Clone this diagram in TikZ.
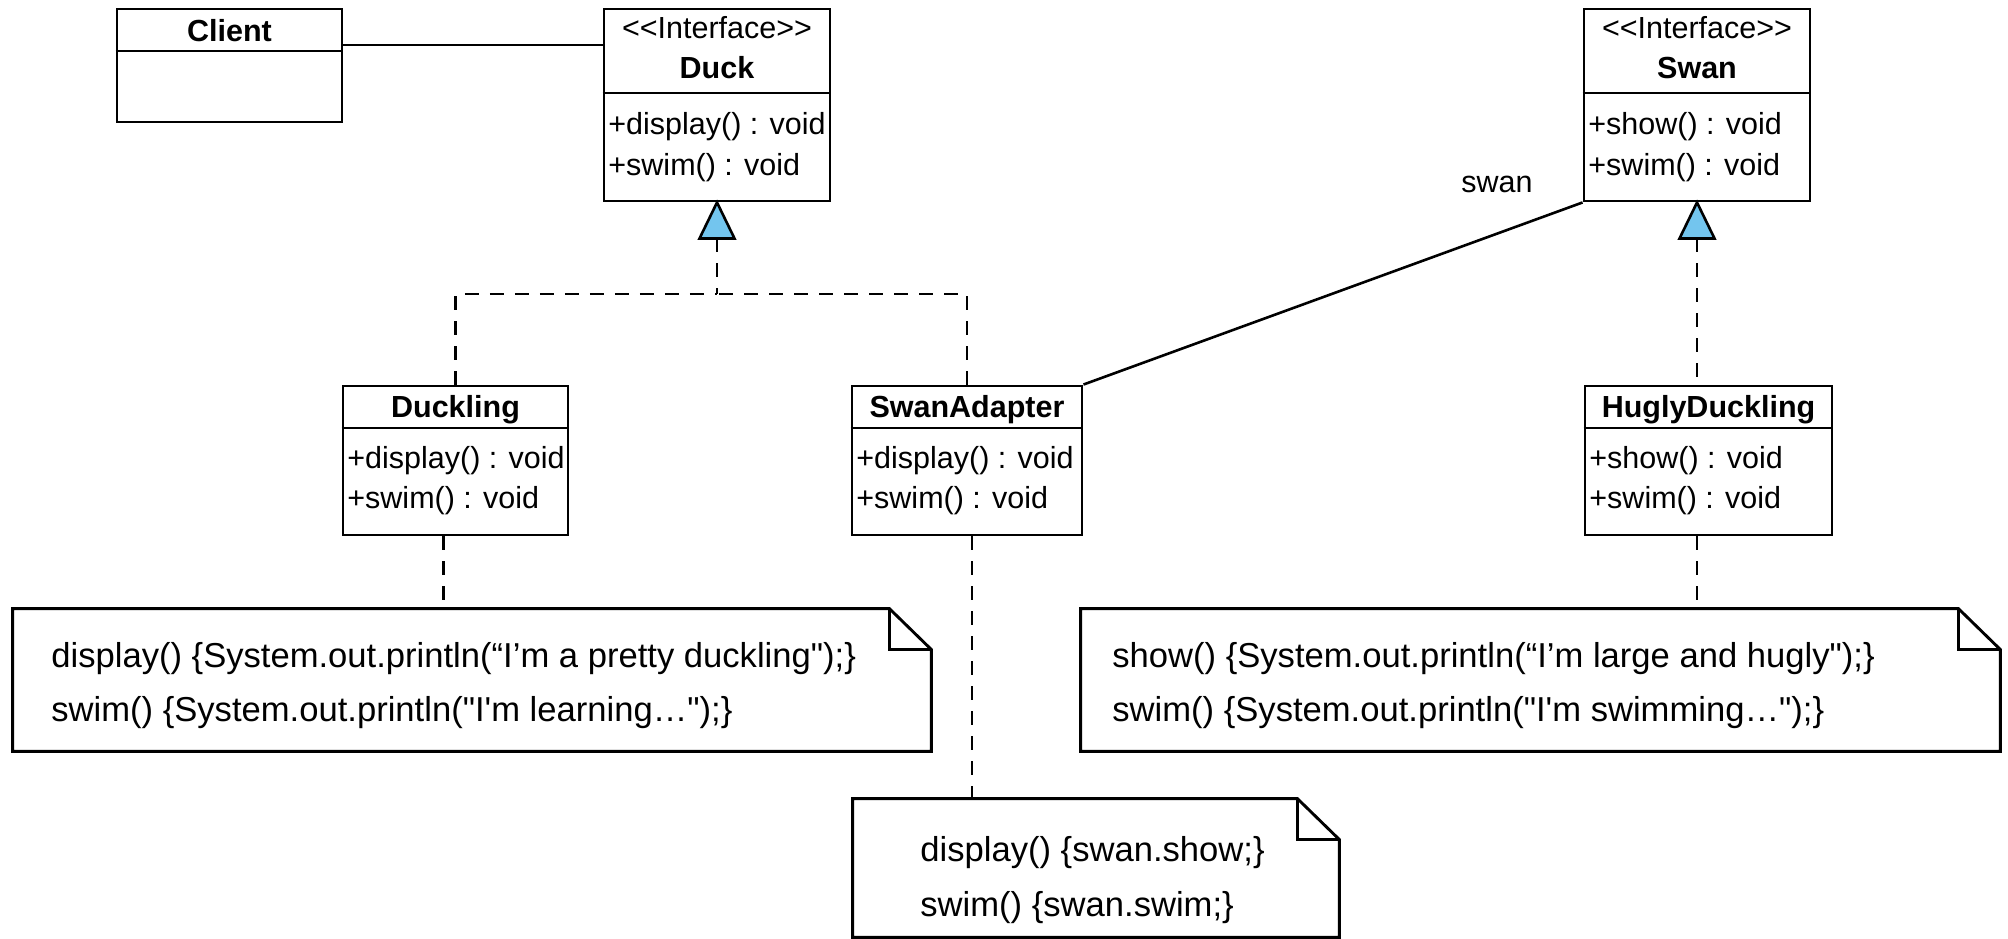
\documentclass[tikz,border=0pt]{standalone}
\usepackage{fontspec}
\newfontfamily\lsans{Liberation Sans}
\usetikzlibrary{fit,calc}
\definecolor{tri}{RGB}{115,197,238}
\tikzset{
  box/.style={draw, line width=1.45pt, inner sep=0pt, fit={#1}},
  notebox/.style={draw=none, inner sep=0pt, fit={#1}},
  ctext/.style={font=\lsans\fontsize{15.25pt}{18pt}\selectfont, inner sep=0pt, anchor=mid},
  btext/.style={font=\lsans\bfseries\fontsize{15.25pt}{18pt}\selectfont, inner sep=0pt, anchor=mid},
  mtext/.style={font=\lsans\fontsize{15.25pt}{18pt}\selectfont, inner sep=0pt, anchor=mid west},
  ntext/.style={font=\lsans\fontsize{17.3pt}{20pt}\selectfont, inner sep=0pt, anchor=mid west},
  conn/.style={line width=1.3pt},
  dsh/.style={line width=1.3pt, dash pattern=on 7pt off 5.5pt},
  sep/.style={line width=1.3pt},
  realize/.style={line width=1.3pt, fill=tri, line join=miter},
  noteline/.style={line width=1.45pt, line join=miter},
}
\begin{document}
\begin{tikzpicture}[x=0.5pt,y=-0.5pt]
\useasboundingbox (0,0) rectangle (2008,938);

% ---------- classes ----------
\node[box={(117,9) (342,122)}] (client) {};
\draw[sep] (client.west |- 0,51) -- (client.east |- 0,51);
\node[btext] (clientname) at (229.5,37) {Client};

\node[box={(604,9) (830,201)}] (duck) {};
\draw[sep] (duck.west |- 0,93) -- (duck.east |- 0,93);
\node[ctext] (duckst) at (717,34) {<<Interface>>};
\node[btext] (duckname) at (717,74) {Duck};
\node[mtext] (duckm1) at (608,130) {+display() : void};
\node[mtext] (duckm2) at (608,171) {+swim() : void};

\node[box={(1584,9) (1810,201)}] (swan) {};
\draw[sep] (swan.west |- 0,93) -- (swan.east |- 0,93);
\node[ctext] (swanst) at (1697,34) {<<Interface>>};
\node[btext] (swanname) at (1697,74) {Swan};
\node[mtext] (swanm1) at (1588,130) {+show() : void};
\node[mtext] (swanm2) at (1588,171) {+swim() : void};

\node[box={(343,386) (568,535)}] (duckling) {};
\draw[sep] (duckling.west |- 0,428) -- (duckling.east |- 0,428);
\node[btext] (ducklingname) at (455.5,413) {Duckling};
\node[mtext] (ducklingm1) at (347,464) {+display() : void};
\node[mtext] (ducklingm2) at (347,504) {+swim() : void};

\node[box={(852,386) (1082,535)}] (adapter) {};
\draw[sep] (adapter.west |- 0,428) -- (adapter.east |- 0,428);
\node[btext] (adaptername) at (967,413) {SwanAdapter};
\node[mtext] (adapterm1) at (856,464) {+display() : void};
\node[mtext] (adapterm2) at (856,504) {+swim() : void};

\node[box={(1585,386) (1832,535)}] (hugly) {};
\draw[sep] (hugly.west |- 0,428) -- (hugly.east |- 0,428);
\node[btext] (huglyname) at (1708.5,413) {HuglyDuckling};
\node[mtext] (huglym1) at (1589,464) {+show() : void};
\node[mtext] (huglym2) at (1589,504) {+swim() : void};

% ---------- notes ----------
\node[notebox={(13,609) (931,751)}] (note1) {};
\node[notebox={(1081,609) (2000,751)}] (note2) {};
\node[notebox={(853,799) (1339,937)}] (note3) {};
\foreach \n in {note1,note2,note3}{
  \draw[noteline] (\n.north west) -- ([xshift=-21pt]\n.north east)
     -- ([yshift=-20.5pt]\n.north east) -- (\n.south east) -- (\n.south west) -- cycle;
  \draw[noteline] ([xshift=-21pt]\n.north east) -- ([xshift=-21pt,yshift=-20.5pt]\n.north east)
     -- ([yshift=-20.5pt]\n.north east);
}
\node[ntext] (n1a) at (51,663) {display() \{System.out.println(“I’m a pretty duckling");\}};
\node[ntext] (n1b) at (51,717) {swim() \{System.out.println("I'm learning…");\}};
\node[ntext] (n2a) at (1112,663) {show() \{System.out.println(“I’m large and hugly");\}};
\node[ntext] (n2b) at (1112,717) {swim() \{System.out.println("I'm swimming…");\}};
\node[ntext] (n3a) at (920,857) {display() \{swan.show;\}};
\node[ntext] (n3b) at (920,912) {swim() \{swan.swim;\}};

% ---------- connectors ----------
\coordinate (cline) at (0,45);
\draw[conn] (client.east |- cline) -- (duck.west |- cline);

\draw[conn] (adapter.north east) -- (swan.south west);
\node[ctext] (swanlabel) at (1497,188) {swan};

% realization Duck
\coordinate (duckjoin) at (717,294);
\draw[dsh] ($(duck.south)+(0,36)$) -- (duckjoin);
\draw[dsh] (duckling.north) |- (duckjoin);
\draw[dsh] (adapter.north) |- (duckjoin);
\draw[realize] (duck.south) -- ++(17.5,36) -- ++(-35,0) -- cycle;

% realization Swan
\draw[dsh] ($(swan.south)+(0,36)$) -- (swan.south |- hugly.north);
\draw[realize] (swan.south) -- ++(17.5,36) -- ++(-35,0) -- cycle;

% note anchors
\draw[dsh] ([xshift=-6pt]duckling.south) -- ([xshift=-6pt]duckling.south |- note1.north);
\draw[dsh] ([xshift=2.5pt]adapter.south) -- ([xshift=2.5pt]adapter.south |- note3.north);
\draw[dsh] (hugly.south -| swan.south) -- (swan.south |- note2.north);
\end{tikzpicture}
\end{document}
